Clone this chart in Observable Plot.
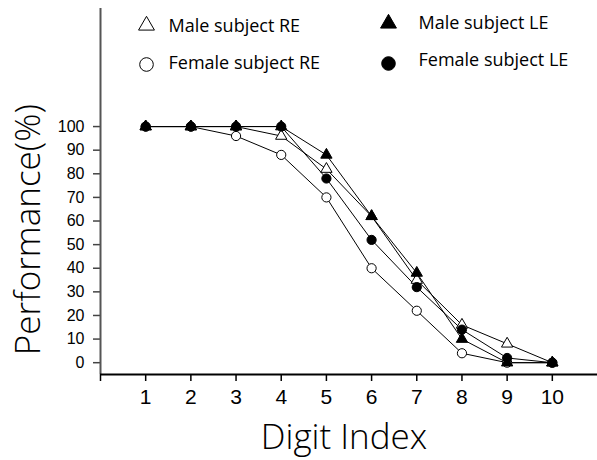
<!DOCTYPE html>
<html>
<head>
<meta charset="utf-8">
<script src="https://cdn.jsdelivr.net/npm/d3@7"></script>
<script src="https://cdn.jsdelivr.net/npm/@observablehq/plot@0.6"></script>
<style>
  html, body { margin: 0; padding: 0; background: #fff; }
  svg { display: block; }
  svg g[aria-label="y-axis tick label"] text, svg g[aria-label="x-axis tick label"] text { font-family: Arial, "Liberation Sans", sans-serif; }
</style>
</head>
<body>
<div id="chart"></div>
<script>
const digits = [1, 2, 3, 4, 5, 6, 7, 8, 9, 10];
const maleRE   = [100, 100, 100, 96, 82, 62, 35, 16, 8, 0];
const maleLE   = [100, 100, 100, 100, 88, 62, 38, 10, 0, 0];
const femaleRE = [100, 100, 96, 88, 70, 40, 22, 4, 0, 0];
const femaleLE = [100, 100, 100, 100, 78, 52, 32, 14, 2, 0];
const yTicks = [0, 10, 20, 30, 40, 50, 60, 70, 80, 90, 100];
const xTicks = [1, 2, 3, 4, 5, 6, 7, 8, 9, 10];

const series = [
  {name: "Male subject RE",   values: maleRE,   symbol: "triangle", fill: "white"},
  {name: "Female subject RE", values: femaleRE, symbol: "circle",   fill: "white"},
  {name: "Female subject LE", values: femaleLE, symbol: "circle",   fill: "black"},
  {name: "Male subject LE",   values: maleLE,   symbol: "triangle", fill: "black"}
];
const rows = series.flatMap(s => digits.map((d, i) => ({series: s.name, digit: d, value: s.values[i]})));

// legend layout (pixel offsets from top-left of frame)
const legendPos = {
  "Male subject RE":   {sx: 46,  sy: 17, tx: 68,  ty: 18},
  "Male subject LE":   {sx: 288, sy: 15, tx: 318, ty: 15},
  "Female subject RE": {sx: 46,  sy: 56, tx: 68,  ty: 55},
  "Female subject LE": {sx: 288, sy: 55, tx: 318, ty: 52}
};

const marks = [];
for (const s of series) {
  const data = rows.filter(r => r.series === s.name);
  marks.push(Plot.line(data, {x: "digit", y: "value", stroke: "black", strokeWidth: 1}));
}
for (const s of series) {
  const data = rows.filter(r => r.series === s.name);
  marks.push(Plot.dot(data, {
    x: "digit", y: "value", symbol: () => s.symbol,
    r: s.symbol === "triangle" ? 4.2 : 4.6,
    fill: s.fill, stroke: "black", strokeWidth: 1
  }));
}
for (const s of series) {
  const p = legendPos[s.name];
  marks.push(Plot.dot([s.name], {
    frameAnchor: "top-left", dx: p.sx, dy: p.sy,
    symbol: () => s.symbol, r: s.symbol === "triangle" ? 5.9 : 6.8,
    fill: s.fill, stroke: "black", strokeWidth: 1
  }));
  marks.push(Plot.text([s.name], {
    frameAnchor: "top-left", dx: p.tx, dy: p.ty,
    text: d => d, textAnchor: "start", lineAnchor: "middle",
    fontSize: 18, fontFamily: "Open Sans", fill: "black"
  }));
}

const chart = Plot.plot({
  width: 597,
  height: 460,
  marginLeft: 100,
  marginRight: 0,
  marginTop: 8,
  marginBottom: 86,
  style: {fontFamily: "Arial, 'Liberation Sans', sans-serif", background: "white"},
  x: {domain: [0, 11]},
  y: {domain: [-5, 150]},
  marks: [
    Plot.axisY(yTicks, {tickSize: 7, tickPadding: 9, fontSize: 16, label: null, stroke: "#444", strokeWidth: 1.5}),
    Plot.axisX([0, ...xTicks], {tickSize: 7, tickPadding: 8, fontSize: 21, label: null, strokeWidth: 1.5,
      tickFormat: d => d === 0 ? "" : String(d)}),
    Plot.ruleX([0], {stroke: "#555", strokeWidth: 2}),
    Plot.ruleY([-5], {stroke: "black", strokeWidth: 2}),
    ...marks,
    Plot.text(["Digit Index"], {frameAnchor: "bottom", dx: -5, dy: 63, text: d => d, textAnchor: "middle",
      fontSize: 35, fontFamily: "Open Sans", fontWeight: 300, lineAnchor: "middle", fill: "black"}),
    Plot.text(["Performance(%)"], {frameAnchor: "left", dx: -72, dy: 38, rotate: -90, text: d => d, textAnchor: "middle",
      fontSize: 35, fontFamily: "Open Sans", fontWeight: 300, lineAnchor: "middle", fill: "black"})
  ]
});
document.getElementById("chart").appendChild(chart);
</script>
</body>
</html>
